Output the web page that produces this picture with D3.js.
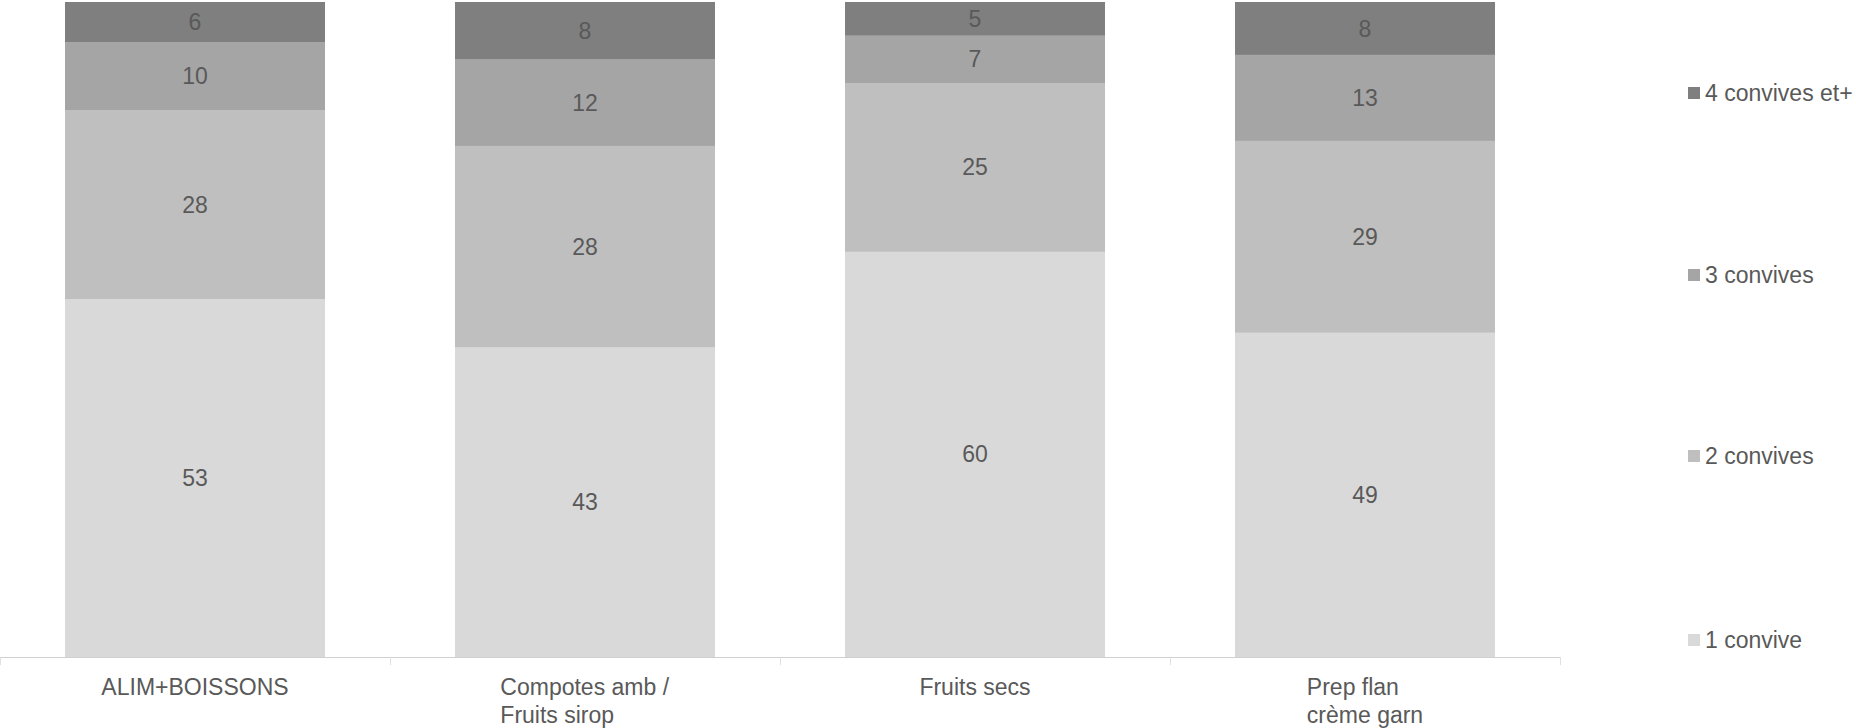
<!DOCTYPE html>
<html><head><meta charset="utf-8">
<script src="https://cdn.jsdelivr.net/npm/d3@7"></script>
<style>body{margin:0;background:#fff}svg{display:block}</style>
</head><body>
<script>
const categories = ["ALIM+BOISSONS", "Compotes amb / Fruits sirop", "Fruits secs", "Prep flan crème garn"];
const categoryLines = [["ALIM+BOISSONS"], ["Compotes amb /", "Fruits sirop"], ["Fruits secs"], ["Prep flan", "crème garn"]];
const seriesNames = ["1 convive", "2 convives", "3 convives", "4 convives et+"];
const s1 = [53, 43, 60, 49];
const s2 = [28, 28, 25, 29];
const s3 = [10, 12, 7, 13];
const s4 = [6, 8, 5, 8];
const colors = ["#d9d9d9", "#bfbfbf", "#a5a5a5", "#7f7f7f"];

const W = 1856, H = 728;
const svg = d3.select("body").append("svg").attr("width", W).attr("height", H);
const font = "Arial, 'Liberation Sans', sans-serif";
const fs = 23;

const rows = categories.map((c, i) => ({cat: c, "1 convive": s1[i], "2 convives": s2[i], "3 convives": s3[i], "4 convives et+": s4[i]}));
const stack = d3.stack().keys(seriesNames).offset(d3.stackOffsetExpand);
const layers = stack(rows);

const x = d3.scaleBand().domain(categories).range([0, 1560]).paddingInner(1/3).paddingOuter(1/6);
const y = d3.scaleLinear().domain([0, 1]).range([657, 2]);

const g = svg.append("g");
layers.forEach((layer, li) => {
  const lg = g.append("g").attr("fill", colors[li]);
  lg.selectAll("rect").data(layer).join("rect")
    .attr("x", d => x(d.data.cat))
    .attr("width", x.bandwidth())
    .attr("y", d => y(d[1]))
    .attr("height", d => y(d[0]) - y(d[1]));
  g.append("g").selectAll("text").data(layer).join("text")
    .attr("x", d => x(d.data.cat) + x.bandwidth() / 2)
    .attr("y", d => (y(d[0]) + y(d[1])) / 2)
    .attr("dy", "0.35em")
    .attr("text-anchor", "middle")
    .attr("font-family", font).attr("font-size", fs)
    .attr("fill", "#595959")
    .text(d => d.data[seriesNames[li]]);
});

// axis line and ticks
const axis = svg.append("g");
axis.append("line").attr("x1", 0).attr("x2", 1560).attr("y1", 657.5).attr("y2", 657.5)
  .attr("stroke", "#d0d0d0").attr("stroke-width", 1);
const bounds = [0].concat(categories.map(c => x(c) - x.step() * x.paddingInner() / 2 + x.step()));
axis.selectAll("line.tick").data(bounds).join("line").attr("class", "tick")
  .attr("x1", d => Math.round(d) + 0.5).attr("x2", d => Math.round(d) + 0.5)
  .attr("y1", 657).attr("y2", 665).attr("stroke", "#e0e0e0");

// category labels (block left-aligned, centered on band)
categories.forEach((c, i) => {
  const cx = x(c) + x.bandwidth() / 2;
  const t = svg.append("text").attr("font-family", font).attr("font-size", fs).attr("fill", "#595959");
  categoryLines[i].forEach((ln, j) => {
    t.append("tspan").attr("x", 0).attr("y", 695 + j * 28).text(ln);
  });
  const bw = t.node().getBBox().width;
  t.attr("transform", `translate(${cx - bw / 2},0)`);
});

// legend
const legY = [640, 456, 275, 93];
seriesNames.forEach((s, i) => {
  const lg = svg.append("g").attr("transform", `translate(1688,${legY[i]})`);
  lg.append("rect").attr("x", 0).attr("y", -6).attr("width", 12).attr("height", 12).attr("fill", colors[i]);
  lg.append("text").attr("x", 17).attr("y", 0).attr("dy", "0.35em")
    .attr("font-family", font).attr("font-size", fs).attr("fill", "#595959").text(s);
});
</script>
</body></html>
